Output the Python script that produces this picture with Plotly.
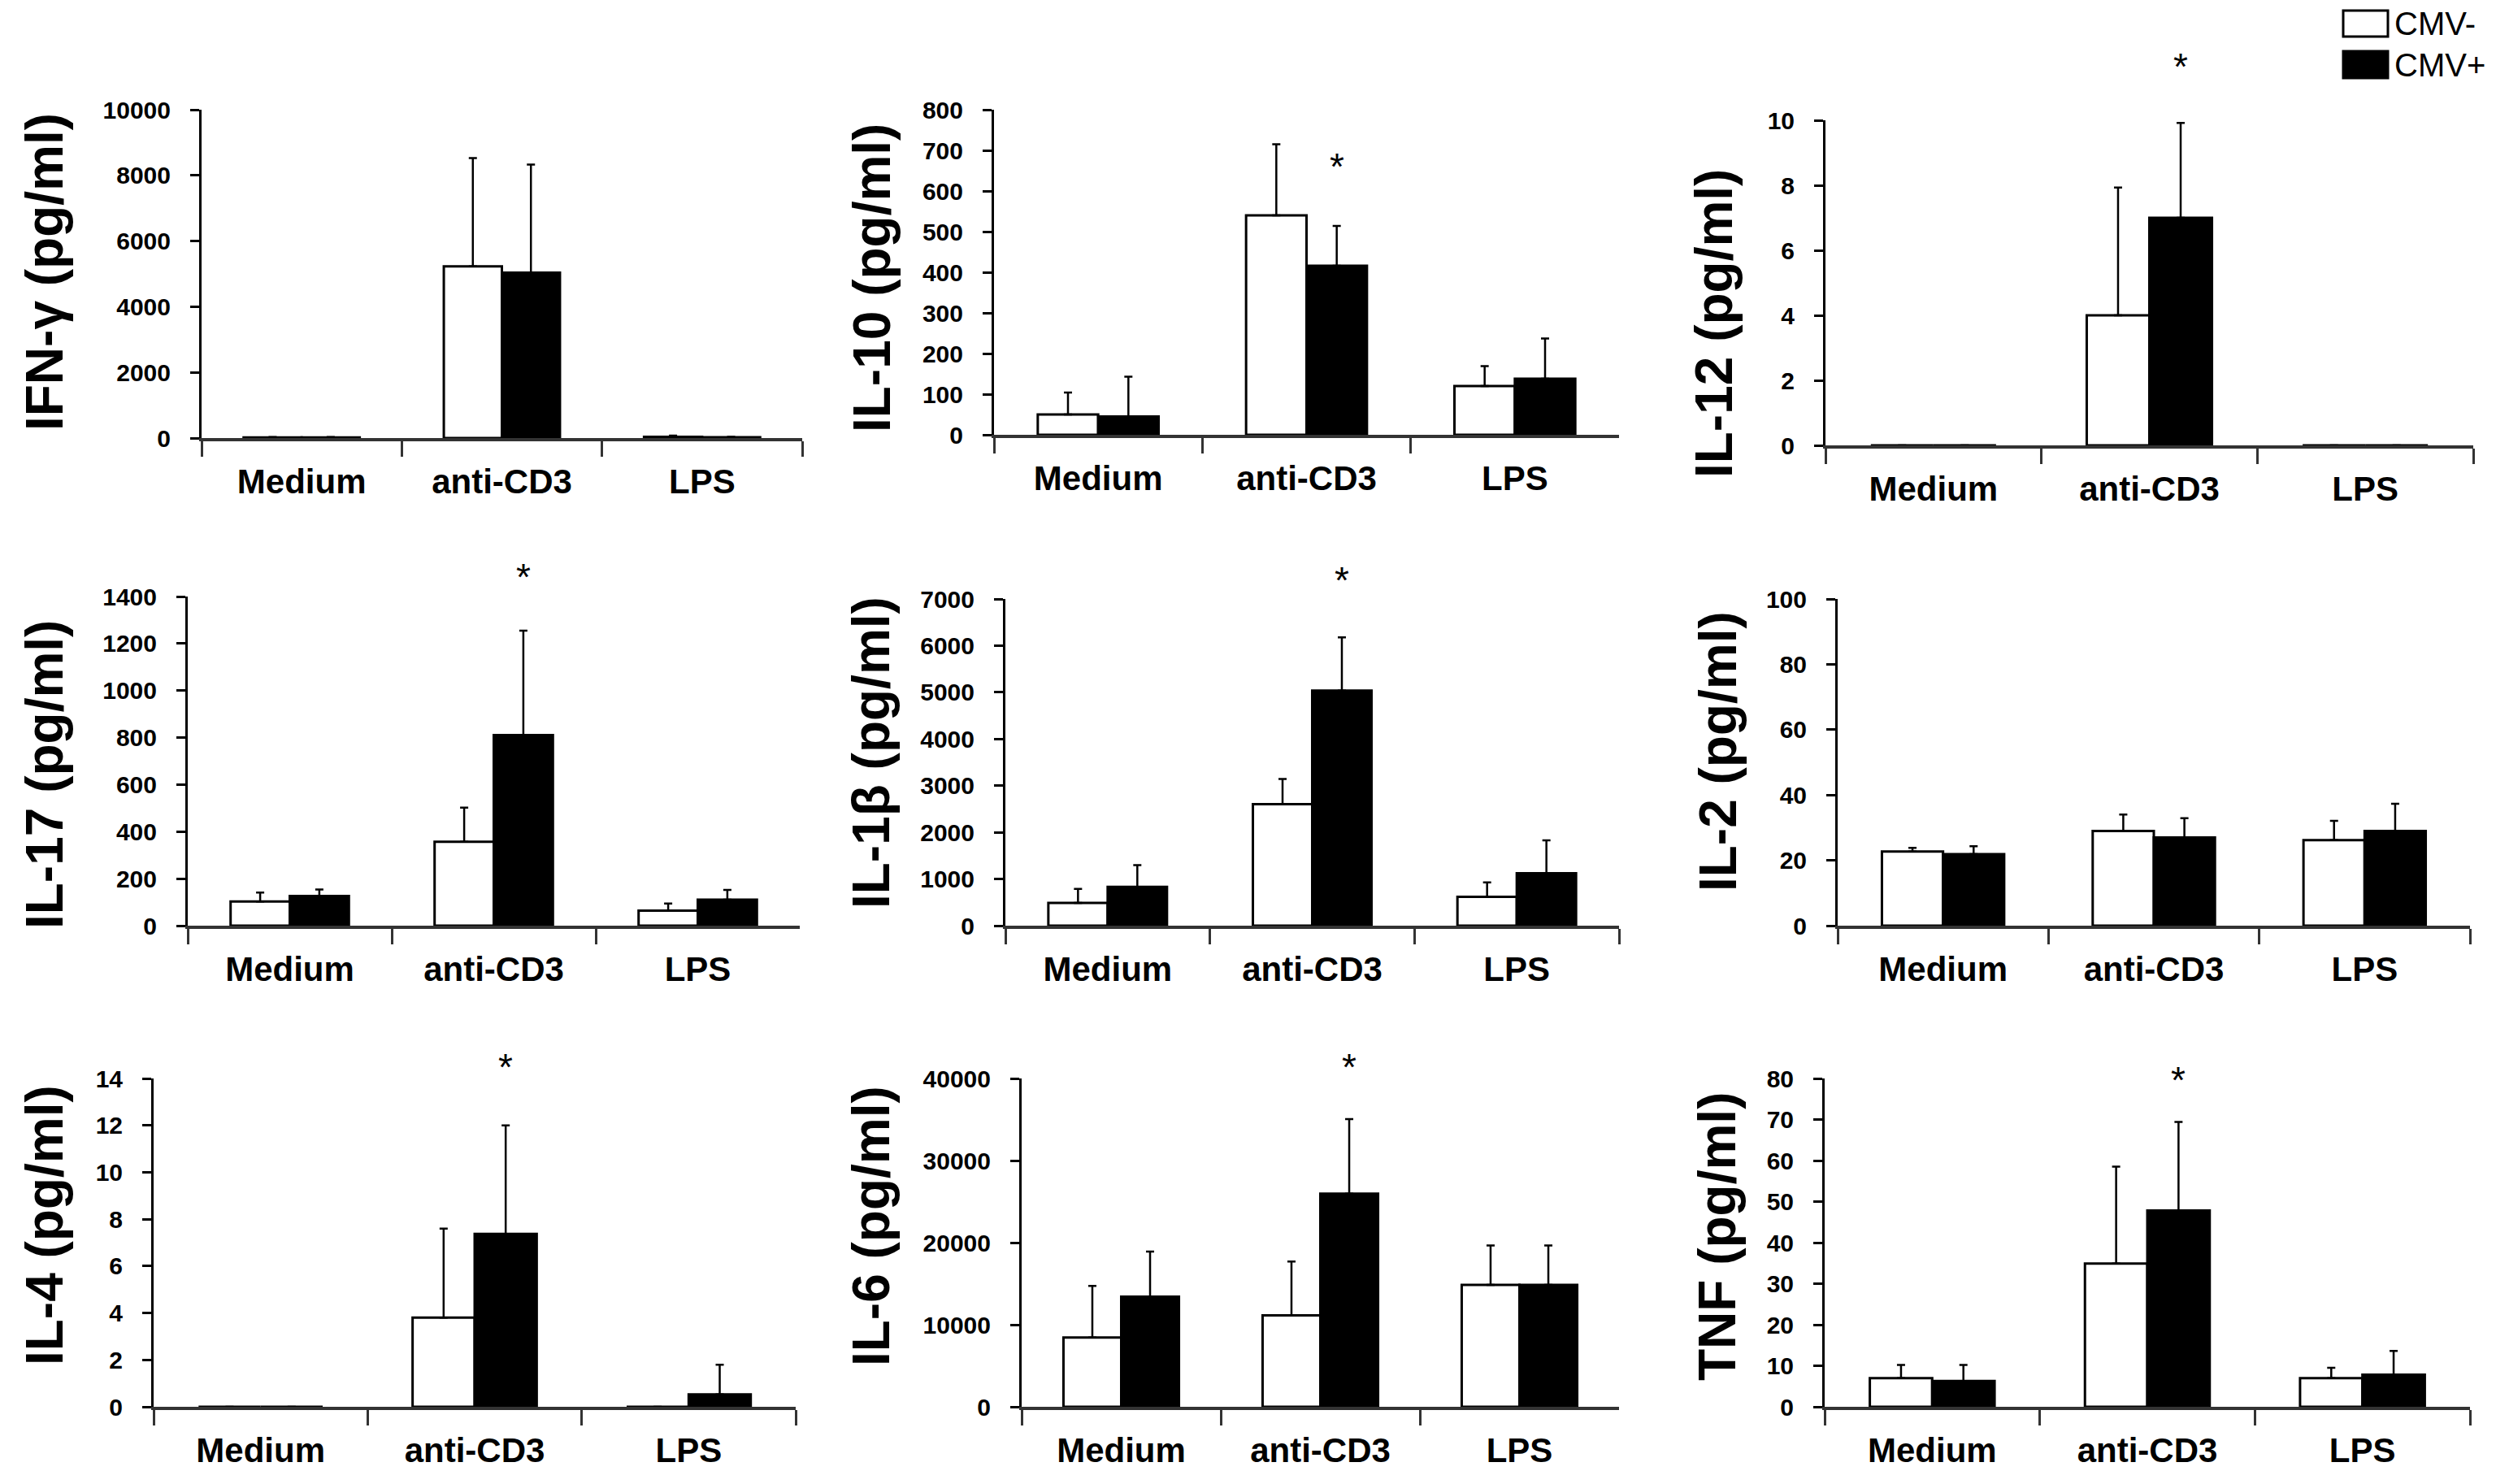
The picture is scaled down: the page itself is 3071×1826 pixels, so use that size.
import plotly.graph_objects as go

W, H = 3071, 1826

categories = ["Medium", "anti-CD3", "LPS"]
groups = ["CMV-", "CMV+"]

# mean and upper SD per cytokine, CMV- (white) and CMV+ (black)
ifng_neg = [20, 5230, 35]
ifng_neg_sd = [10, 3295, 40]
ifng_pos = [20, 5035, 25]
ifng_pos_sd = [10, 3295, 10]

il10_neg = [50, 540, 120]
il10_neg_sd = [54, 175, 49]
il10_pos = [45, 416, 138]
il10_pos_sd = [98, 98, 99]

il12_neg = [0, 4.0, 0]
il12_neg_sd = [0, 3.93, 0]
il12_pos = [0, 7.0, 0]
il12_pos_sd = [0, 2.92, 0]

il17_neg = [103, 357, 64]
il17_neg_sd = [38, 145, 30]
il17_pos = [126, 811, 111]
il17_pos_sd = [28, 444, 41]

il1b_neg = [486, 2605, 616]
il1b_neg_sd = [304, 538, 311]
il1b_pos = [830, 5036, 1121]
il1b_pos_sd = [466, 1140, 707]

il2_neg = [22.7, 29.0, 26.2]
il2_neg_sd = [1.1, 5.0, 5.9]
il2_pos = [21.9, 27.0, 29.0]
il2_pos_sd = [2.4, 5.9, 8.3]

il4_neg = [0, 3.8, 0]
il4_neg_sd = [0, 3.8, 0]
il4_pos = [0, 7.37, 0.53]
il4_pos_sd = [0, 4.63, 1.26]

il6_neg = [8430, 11150, 14860]
il6_neg_sd = [6310, 6540, 4800]
il6_pos = [13420, 25970, 14860]
il6_pos_sd = [5480, 9080, 4800]

tnf_neg = [7.0, 34.9, 7.0]
tnf_neg_sd = [3.2, 23.6, 2.5]
tnf_pos = [6.3, 47.8, 7.8]
tnf_pos_sd = [3.9, 21.6, 5.8]

titles = ["IFN-γ (pg/ml)", "IL-10 (pg/ml)", "IL-12 (pg/ml)",
          "IL-17 (pg/ml)", "IL-1β (pg/ml)", "IL-2 (pg/ml)",
          "IL-4 (pg/ml)", "IL-6 (pg/ml)", "TNF (pg/ml)"]
y_max = [10000, 800, 10, 1400, 7000, 100, 14, 40000, 80]
y_step = [2000, 100, 2, 200, 1000, 20, 2, 10000, 10]
significant = [False, True, True, True, True, False, True, True, True]

series = [
    (ifng_neg, ifng_neg_sd, ifng_pos, ifng_pos_sd),
    (il10_neg, il10_neg_sd, il10_pos, il10_pos_sd),
    (il12_neg, il12_neg_sd, il12_pos, il12_pos_sd),
    (il17_neg, il17_neg_sd, il17_pos, il17_pos_sd),
    (il1b_neg, il1b_neg_sd, il1b_pos, il1b_pos_sd),
    (il2_neg, il2_neg_sd, il2_pos, il2_pos_sd),
    (il4_neg, il4_neg_sd, il4_pos, il4_pos_sd),
    (il6_neg, il6_neg_sd, il6_pos, il6_pos_sd),
    (tnf_neg, tnf_neg_sd, tnf_pos, tnf_pos_sd),
]

# panel boxes in pixels: left, right, top (y max), bottom (y = 0)
boxes = [
    (240, 979, 127, 531), (1215, 1984, 127, 527), (2238, 3035, 140, 540),
    (223, 976, 726, 1131), (1229, 1984, 729, 1131), (2253, 3031, 729, 1131),
    (181, 971, 1319, 1723), (1249, 1984, 1319, 1723), (2237, 3031, 1319, 1723),
]
# y-title centres and star heights, pixels
title_pos = [(47, 327), (1065, 334), (2101, 390),
             (47, 945), (1064, 918), (2106, 917),
             (47, 1500), (1064, 1501), (2105, 1514)]
star_y = [None, 200, 77, 705, 709, None, 1308, 1308, 1324]

sans = "Liberation Sans, Arial, sans-serif"

fig = go.Figure()
annotations = []
layout_axes = {}

for i, (neg, neg_sd, pos, pos_sd) in enumerate(series):
    n = i + 1
    xa = "x" if n == 1 else f"x{n}"
    ya = "y" if n == 1 else f"y{n}"
    for vals, sd, col in [(neg, neg_sd, "white"), (pos, pos_sd, "black")]:
        fig.add_trace(go.Bar(
            x=categories, y=vals,
            name=groups[0] if col == "white" else groups[1],
            marker=dict(color=col, line=dict(color="black", width=3)),
            error_y=dict(type="data", symmetric=False, array=sd,
                         arrayminus=[0] * len(sd), color="black",
                         thickness=2.5, width=5),
            xaxis=xa, yaxis=ya, showlegend=False, cliponaxis=False,
        ))

    x0, x1, yt, yz = boxes[i]
    layout_axes["xaxis" if n == 1 else f"xaxis{n}"] = dict(
        domain=[x0 / W, x1 / W], anchor=ya, type="category",
        range=[-0.5, 2.5], tickson="boundaries", ticks="outside",
        ticklen=19, tickwidth=3, tickcolor="#333",
        showline=True, linecolor="#333", linewidth=4,
        showgrid=False, zeroline=False, ticklabelstandoff=14,
        tickfont=dict(family=sans, size=42, color="black", weight="bold"),
    )
    layout_axes["yaxis" if n == 1 else f"yaxis{n}"] = dict(
        domain=[1 - yz / H, 1 - yt / H], anchor=xa,
        range=[0, y_max[i]], tick0=0, dtick=y_step[i], tickformat="d",
        ticks="outside", ticklen=11, tickwidth=3, tickcolor="black",
        showline=True, linecolor="black", linewidth=3,
        showgrid=False, zeroline=False, ticklabelstandoff=18,
        tickfont=dict(family=sans, size=30, color="black", weight="bold"),
    )

    tx, ty = title_pos[i]
    annotations.append(dict(
        text=titles[i], xref="paper", yref="paper", x=tx / W, y=1 - ty / H,
        xanchor="center", yanchor="middle", textangle=-90, showarrow=False,
        font=dict(family=sans, size=64, color="black", weight="bold"),
    ))
    if significant[i]:
        annotations.append(dict(
            text="*", xref=xa, yref="paper", x=1.145, y=1 - star_y[i] / H,
            xanchor="center", yanchor="middle", yshift=3, showarrow=False,
            font=dict(family=sans, size=46, color="black"),
        ))

# legend drawn as boxes + labels in the top right corner
shapes = [
    dict(type="rect", xref="paper", yref="paper",
         x0=2875 / W, x1=2930 / W, y0=1 - 37 / H, y1=1 - 5 / H,
         line=dict(color="black", width=3), fillcolor="white"),
    dict(type="rect", xref="paper", yref="paper",
         x0=2875 / W, x1=2930 / W, y0=1 - 88 / H, y1=1 - 55 / H,
         line=dict(color="black", width=3), fillcolor="black"),
]
for label, cy in [(groups[0], 21), (groups[1], 72)]:
    annotations.append(dict(
        text=label, xref="paper", yref="paper", x=2936 / W, y=1 - cy / H,
        xanchor="left", yanchor="middle", showarrow=False,
        font=dict(family=sans, size=40, color="black"),
    ))

fig.update_layout(
    width=W, height=H, margin=dict(l=0, r=0, t=0, b=0),
    template="none", paper_bgcolor="white", plot_bgcolor="white",
    barmode="group", bargap=0.42, bargroupgap=0,
    annotations=annotations, shapes=shapes, showlegend=False,
    **layout_axes,
)

fig.write_html("out.html")
